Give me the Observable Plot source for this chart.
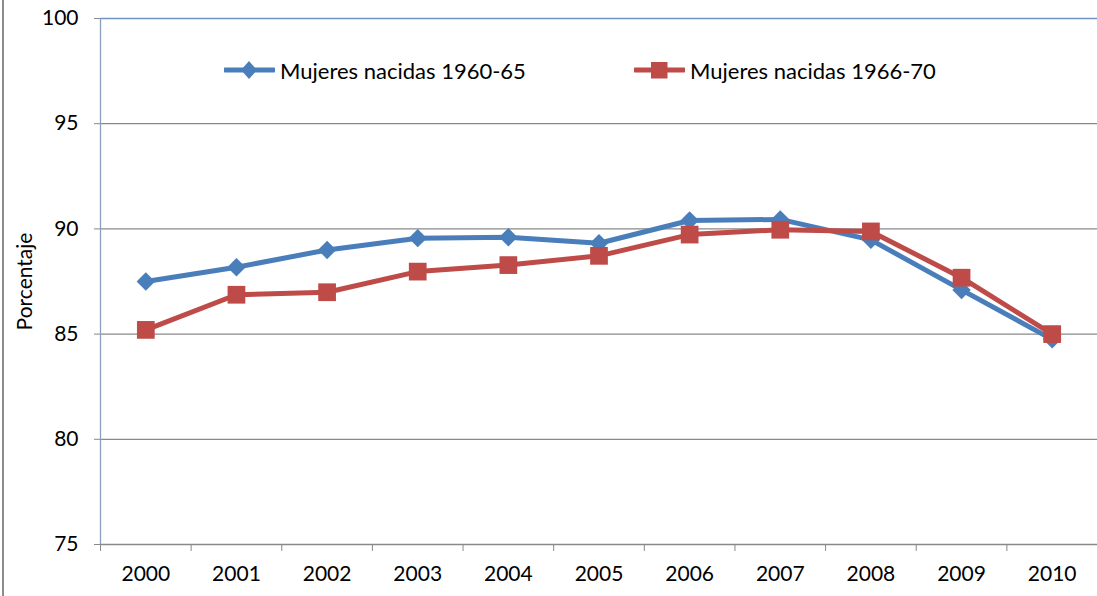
<!DOCTYPE html>
<html>
<head>
<meta charset="utf-8">
<script src="https://cdn.jsdelivr.net/npm/d3@7"></script>
<script src="https://cdn.jsdelivr.net/npm/@observablehq/plot@0.6"></script>
<style>
  body { margin: 0; background: #fff; }
  #wrap { position: relative; width: 1097px; height: 596px; overflow: hidden; font-family: Lato, "Liberation Sans", sans-serif; }
  #border { position: absolute; left: 2px; top: 0; width: 2px; height: 596px; background: #8c8c8c; }
  .leg { position: absolute; top: 56px; height: 28px; display: flex; align-items: center; font-size: 22px; color: #000; white-space: nowrap; }
  .leg svg { margin-right: 5px; }
</style>
</head>
<body>
<div id="wrap">
  <div id="chart"></div>
  <div id="border"></div>
</div>
<script>
const years = [2000, 2001, 2002, 2003, 2004, 2005, 2006, 2007, 2008, 2009, 2010];
const serie1960 = [87.5, 88.18, 89.0, 89.56, 89.6, 89.32, 90.4, 90.45, 89.48, 87.1, 84.75];
const serie1966 = [85.2, 86.87, 86.99, 87.97, 88.28, 88.72, 89.73, 89.96, 89.88, 87.68, 85.0];
const seriesNames = ["Mujeres nacidas 1960-65", "Mujeres nacidas 1966-70"];
const yTicks = [75, 80, 85, 90, 95, 100];
const gridTicks = [80, 85, 90, 95];
const colors = ["#4a7ebb", "#be4b48"];

const d1 = years.map((y, i) => ({year: y, v: serie1960[i]}));
const d2 = years.map((y, i) => ({year: y, v: serie1966[i]}));
const bounds = years.map(y => y - 0.5).concat([years[years.length - 1] + 0.5]);

const chart = Plot.plot({
  width: 1097,
  height: 596,
  marginLeft: 100,
  marginRight: 0,
  marginTop: 18,
  marginBottom: 52,
  style: {fontSize: "21px", fontFamily: "Lato, 'Liberation Sans', sans-serif", color: "#000", background: "transparent"},
  x: {domain: [bounds[0], bounds[bounds.length - 1]]},
  y: {domain: [75, 100]},
  marks: [
    Plot.ruleY(gridTicks, {stroke: "#898989", strokeWidth: 1.3}),
    Plot.ruleY([75], {stroke: "#898989", strokeWidth: 1.3}),
    Plot.ruleY([100], {stroke: "#6f93c4", strokeWidth: 1.5}),
    Plot.ruleX([bounds[0]], {stroke: "#8a9fbf", strokeWidth: 1.3}),
    Plot.axisY(yTicks, {tickSize: 6, tickPadding: 16, stroke: "#898989", label: "Porcentaje", labelAnchor: "center", labelArrow: "none", labelOffset: 83, tickFormat: d => String(d)}),
    Plot.axisX(bounds, {tickSize: 7, stroke: "#898989", tickFormat: () => "", label: null}),
    Plot.axisX(years, {tickSize: 0, tickPadding: 22, tickFormat: d => String(d), label: null}),
    Plot.line(d1, {x: "year", y: "v", stroke: colors[0], strokeWidth: 5}),
    Plot.dot(d1, {x: "year", y: "v", symbol: "diamond2", r: 8.3, fill: colors[0], stroke: "none"}),
    Plot.line(d2, {x: "year", y: "v", stroke: colors[1], strokeWidth: 5}),
    Plot.dot(d2, {x: "year", y: "v", symbol: "square", r: 10, fill: colors[1], stroke: "none"})
  ]
});
document.getElementById("chart").appendChild(chart);

// Legend
const wrap = document.getElementById("wrap");
const legendPos = [224, 634];
seriesNames.forEach((name, i) => {
  const item = document.createElement("div");
  item.className = "leg";
  item.style.left = legendPos[i] + "px";
  const marker = i === 0
    ? `<path d="M25,5 L33,14 L25,23 L17,14 Z" fill="${colors[0]}"/>`
    : `<rect x="17" y="6" width="16.5" height="16.5" fill="${colors[1]}"/>`;
  item.innerHTML = `<svg width="51" height="28"><line x1="1" x2="50" y1="14" y2="14" stroke="${colors[i]}" stroke-width="5" stroke-linecap="round"/>${marker}</svg><span>${name}</span>`;
  wrap.appendChild(item);
});
</script>
</body>
</html>
